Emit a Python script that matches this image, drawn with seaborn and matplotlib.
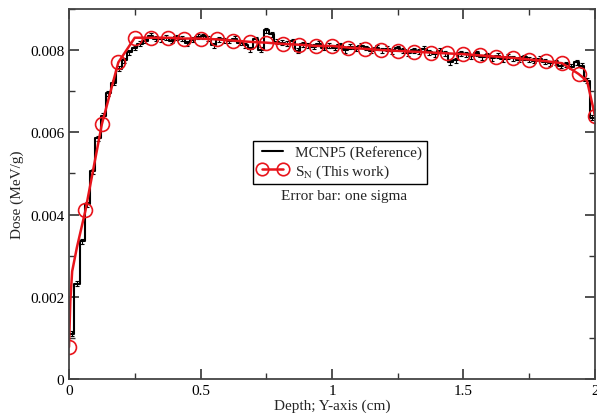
import matplotlib
matplotlib.use('Agg')
import matplotlib.pyplot as plt
from matplotlib.ticker import MultipleLocator
import numpy as np
import pandas as pd
import seaborn as sns

# MCNP5 reference: 100 bins of 0.02 cm, dose in MeV/g
mcnp_edges = np.round(np.arange(0, 2.0001, 0.02), 4)
mcnp_dose = [
    0.00110, 0.00232, 0.00335, 0.00425, 0.00505, 0.00585, 0.00640, 0.00695, 0.00720, 0.00755,
    0.00775, 0.00795, 0.00805, 0.00815, 0.00822, 0.00835, 0.00828, 0.00826, 0.00830, 0.00822,
    0.00831, 0.00828, 0.00816, 0.00825, 0.00832, 0.00834, 0.00828, 0.00812, 0.00826, 0.00824,
    0.00822, 0.00827, 0.00818, 0.00812, 0.00802, 0.00826, 0.00801, 0.00848, 0.00838, 0.00820,
    0.00818, 0.00815, 0.00822, 0.00798, 0.00814, 0.00812, 0.00808, 0.00815, 0.00805, 0.00810,
    0.00806, 0.00812, 0.00800, 0.00808, 0.00803, 0.00810, 0.00805, 0.00798, 0.00806, 0.00800,
    0.00803, 0.00797, 0.00805, 0.00800, 0.00792, 0.00800, 0.00797, 0.00803, 0.00795, 0.00790,
    0.00798, 0.00792, 0.00770, 0.00775, 0.00792, 0.00790, 0.00785, 0.00792, 0.00783, 0.00788,
    0.00780, 0.00786, 0.00778, 0.00784, 0.00780, 0.00776, 0.00782, 0.00776, 0.00774, 0.00779,
    0.00772, 0.00768, 0.00770, 0.00762, 0.00766, 0.00760, 0.00770, 0.00762, 0.00725, 0.00635,
]
mcnp_sigma = 0.00006

# S_N (this work)
sn_depth = [0.0, 0.005, 0.012, 0.03, 0.0625, 0.125, 0.1875, 0.25, 0.3125, 0.375, 0.4375,
            0.5, 0.5625, 0.625, 0.6875, 0.75, 0.8125, 0.875, 0.9375, 1.0, 1.0625, 1.125,
            1.1875, 1.25, 1.3125, 1.375, 1.4375, 1.5, 1.5625, 1.625, 1.6875, 1.75, 1.8125,
            1.875, 1.9375, 1.97, 2.0]
sn_dose = [0.00078, 0.00190, 0.00262, 0.00320, 0.00410, 0.00620, 0.00770, 0.00830, 0.00830,
           0.00830, 0.00828, 0.00828, 0.00826, 0.00823, 0.00820, 0.00818, 0.00815, 0.00813,
           0.00810, 0.00810, 0.00806, 0.00803, 0.00800, 0.00798, 0.00796, 0.00794, 0.00792,
           0.00790, 0.00787, 0.00784, 0.00781, 0.00777, 0.00773, 0.00768, 0.00742, 0.00725,
           0.00640]
sn_marks = [i for i, d in enumerate(sn_depth) if abs(d / 0.0625 - round(d / 0.0625)) < 1e-9]

x_ticks = [0, 0.5, 1, 1.5, 2]
x_labels = ['0', '0.5', '1', '1.5', '2']
y_ticks = [0, 0.002, 0.004, 0.006, 0.008]
y_labels = ['0', '0.002', '0.004', '0.006', '0.008']

sns.set_style('ticks')
plt.rcParams['font.family'] = ['Liberation Serif', 'DejaVu Serif']
plt.rcParams['mathtext.fontset'] = 'stix'

fig = plt.figure(figsize=(5.97, 4.14), dpi=100)
ax = fig.add_axes([0.1156, 0.082, 0.881, 0.894])

step_df = pd.DataFrame({'depth': mcnp_edges, 'dose': list(mcnp_dose) + [mcnp_dose[-1]]})
sns.lineplot(data=step_df, x='depth', y='dose', ax=ax, color='black', lw=1.5,
             drawstyle='steps-post', label='MCNP5 (Reference)')
centers = mcnp_edges[:-1] + 0.01
ax.errorbar(centers, mcnp_dose, yerr=mcnp_sigma, fmt='none', ecolor='black',
            elinewidth=0.8, capsize=1.5, capthick=0.8)

sn_df = pd.DataFrame({'depth': sn_depth, 'dose': sn_dose})
sns.lineplot(data=sn_df, x='depth', y='dose', ax=ax, color='#e8141b', lw=1.8,
             marker='o', markersize=10, markerfacecolor='none', markeredgecolor='#e8141b',
             markeredgewidth=1.2, markevery=sn_marks, label='S$_{\\mathrm{N}}$ (This work)')

ax.set_xlim(0, 2)
ax.set_ylim(0, 0.009)
ax.set_xticks(x_ticks)
ax.set_xticklabels(x_labels)
ax.set_yticks(y_ticks)
ax.set_yticklabels(y_labels)
ax.xaxis.set_minor_locator(MultipleLocator(0.25))
ax.yaxis.set_minor_locator(MultipleLocator(0.001))
ax.tick_params(which='both', direction='in', top=True, right=True, colors='#333333',
               labelcolor='black', labelsize=11)
ax.tick_params(which='major', length=7, width=1.2)
ax.tick_params(which='minor', length=4, width=1.0)
for s in ax.spines.values():
    s.set_color('#444444')
    s.set_linewidth(1.3)

ax.set_xlabel('Depth; Y-axis (cm)', fontsize=11, labelpad=1)
ax.set_ylabel('Dose (MeV/g)', fontsize=11, labelpad=4)

handles, labels = ax.get_legend_handles_labels()
leg = ax.legend(handles[:2], labels[:2], loc='center', bbox_to_anchor=(0.515, 0.585),
                fontsize=11, frameon=True, fancybox=False, edgecolor='black',
                framealpha=1, borderpad=0.3, handlelength=2.0, handletextpad=0.5,
                labelspacing=0.2, numpoints=2)
leg.get_frame().set_linewidth(1.0)
for h in leg.legend_handles:
    h.set_markevery(None)
    h.set_markersize(9)
ax.text(0.522, 0.495, 'Error bar: one sigma', transform=ax.transAxes, ha='center',
        va='center', fontsize=11)

fig.savefig('out.png', dpi=100)
